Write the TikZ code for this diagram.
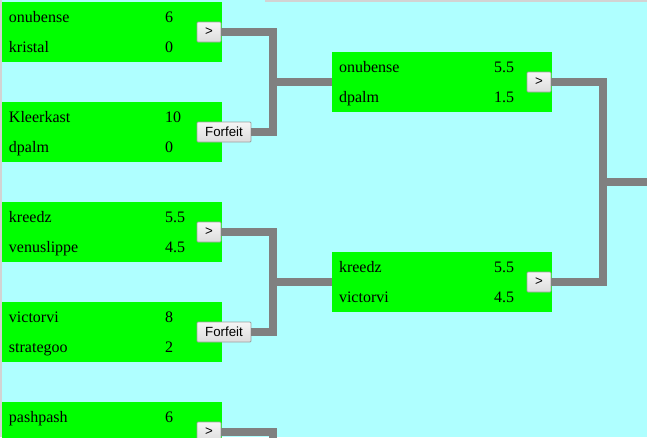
\documentclass[tikz,border=0pt]{standalone}
\usepackage{fontspec}
\setmainfont{Liberation Serif}
\newfontfamily\btnfont{Liberation Sans}
\definecolor{bg}{HTML}{AFFFFF}
\definecolor{boxgreen}{HTML}{00FF00}
\definecolor{linegray}{HTML}{808080}
\definecolor{strip}{HTML}{D3D3D3}
\definecolor{btnborder}{HTML}{A0A0A0}
\definecolor{btntop}{HTML}{F6F6F6}
\definecolor{btnbot}{HTML}{DCDCDC}
\newcommand\bracketmatch[8]{% name, x, y, p1, s1, p2, s2, score offset
  \node[box] (#1) at (#2,#3) {};
  \node[txt] (#1p1) at (#2+7,#3+20) {#4};
  \node[txt] (#1s1) at (#2+#8,#3+20) {#5};
  \node[txt] (#1p2) at (#2+7,#3+50) {#6};
  \node[txt] (#1s2) at (#2+#8,#3+50) {#7};
}
\begin{document}
\begin{tikzpicture}[x=1pt,y=-1pt,
  box/.style={fill=boxgreen, draw=none, minimum width=220pt, minimum height=60pt, inner sep=0pt, outer sep=0pt, anchor=north west},
  txt/.style={anchor=base west, inner sep=0pt, outer sep=0pt, font=\fontsize{16}{19}\selectfont},
  btn/.style={draw=btnborder, line width=0.8pt, top color=btntop, bottom color=btnbot, inner sep=0pt, outer sep=0pt, minimum height=20pt, font=\btnfont\fontsize{13.3}{15}\selectfont, rounded corners=1pt, anchor=north west},
  smallbtn/.style={btn, minimum width=24pt},
  widebtn/.style={btn, minimum width=54pt},
  conn/.style={draw=linegray, line width=8pt}]
\useasboundingbox (0,0) rectangle (647,437);
\clip (0,0) rectangle (647,437);
\fill[bg] (0,0) rectangle (647,437);
\fill[strip] (0,0) rectangle (2,437);
\fill[strip] (265,0) rectangle (647,2);

\coordinate (j1) at (272.5,82);
\coordinate (j3) at (272.5,282);
\coordinate (j9) at (272.5,482);
\coordinate (j5) at (602.7,182);
\coordinate (fin) at (660,182);

% round 1
\bracketmatch{m1}{2}{2}{onubense}{6}{kristal}{0}{163}
\bracketmatch{m2}{2}{102}{Kleerkast}{10}{dpalm}{0}{163}
\bracketmatch{m3}{2}{202}{kreedz}{5.5}{venuslippe}{4.5}{163}
\bracketmatch{m4}{2}{302}{victorvi}{8}{strategoo}{2}{163}
\node[box] (m9) at (2,402) {};
\node[txt] (m9p1) at (9,422) {pashpash};
\node[txt] (m9s1) at (165,422) {6};

% round 2
\bracketmatch{m5}{332}{52}{onubense}{5.5}{dpalm}{1.5}{162}
\bracketmatch{m6}{332}{252}{kreedz}{5.5}{victorvi}{4.5}{162}

% buttons
\node[smallbtn] (b1) at (197,22) {>};
\node[widebtn] (b2) at (197,122) {Forfeit};
\node[smallbtn] (b3) at (197,222) {>};
\node[widebtn] (b4) at (197,322) {Forfeit};
\node[smallbtn] (b9) at (197,422) {>};
\node[smallbtn] (b5) at (527,72) {>};
\node[smallbtn] (b6) at (527,272) {>};

% connectors
\draw[conn] (b1.east) -| (j1) |- (b2.east);
\draw[conn] (j1) -- (m5.west);
\draw[conn] (b3.east) -| (j3) |- (b4.east);
\draw[conn] (j3) -- (m6.west);
\draw[conn] (b9.east) -| (j9);
\draw[conn] (b5.east) -| (j5) |- (b6.east);
\draw[conn] (j5) -- (fin);
\end{tikzpicture}
\end{document}
